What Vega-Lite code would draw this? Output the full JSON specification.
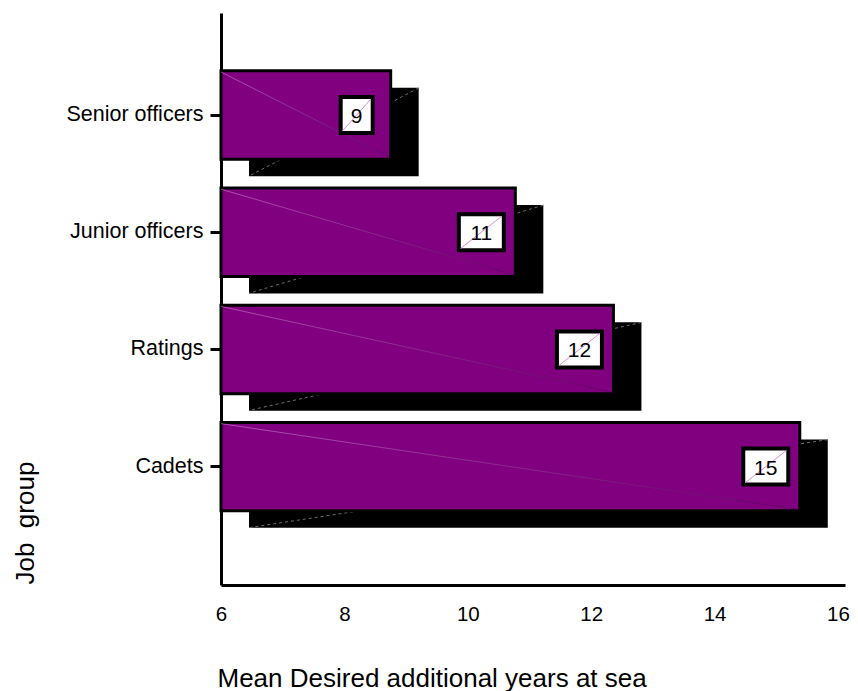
{
  "$schema": "https://vega.github.io/schema/vega-lite/v6.json",
  "width": 624,
  "height": 572,
  "autosize": {"type": "none"},
  "padding": {"left": 221, "top": 13, "right": 13, "bottom": 106},
  "background": "white",
  "config": {
    "view": {"stroke": null},
    "font": "Liberation Sans"
  },
  "data": {
    "values": [
      {"group": "Senior officers", "years": 8.75},
      {"group": "Junior officers", "years": 10.77},
      {"group": "Ratings", "years": 12.36},
      {"group": "Cadets", "years": 15.38}
    ]
  },
  "encoding": {
    "y": {
      "field": "group",
      "type": "nominal",
      "sort": ["Senior officers", "Junior officers", "Ratings", "Cadets"],
      "scale": {"paddingInner": 0.245, "paddingOuter": 0.5628, "align": 0.438},
      "axis": {
        "title": "Job\u00a0 group",
        "grid": false,
        "domainColor": "black",
        "domainWidth": 3,
        "tickColor": "black",
        "tickWidth": 3,
        "tickSize": 11,
        "labelPadding": 7,
        "labelFont": "Liberation Sans",
        "labelFontSize": 21.5,
        "labelColor": "black",
        "labelLimit": 0,
        "titleFont": "Liberation Sans",
        "titleFontSize": 26,
        "titleFontWeight": "normal",
        "titleColor": "black",
        "titleAngle": -90,
        "titleAlign": "left",
        "titleBaseline": "alphabetic",
        "titleX": -188,
        "titleY": 571
      }
    },
    "x": {
      "field": "years",
      "type": "quantitative",
      "scale": {"domain": [6, 16.113], "nice": false, "zero": false},
      "axis": {
        "title": "Mean Desired additional years at sea",
        "values": [6, 8, 10, 12, 14, 16],
        "format": "d",
        "grid": false,
        "ticks": false,
        "tickSize": 0,
        "domainColor": "black",
        "domainWidth": 3,
        "labelFont": "Liberation Sans",
        "labelFontSize": 20.5,
        "labelColor": "black",
        "labelBaseline": "alphabetic",
        "labelPadding": 35,
        "labelFlush": false,
        "labelOverlap": false,
        "titleFont": "Liberation Sans",
        "titleFontSize": 26,
        "titleFontWeight": "normal",
        "titleColor": "black",
        "titleAnchor": "start",
        "titleAlign": "left",
        "titleBaseline": "alphabetic",
        "titleX": -4,
        "titleY": 101
      }
    }
  },
  "layer": [
    {
      "description": "drop shadow behind each bar",
      "mark": {
        "type": "bar",
        "fill": "black",
        "strokeWidth": 0,
        "xOffset": 28,
        "x2Offset": 28,
        "yOffset": 17,
        "y2Offset": 17
      },
      "encoding": {"x2": {"datum": 6}}
    },
    {
      "description": "seam line across the shadow",
      "mark": {
        "type": "rule",
        "stroke": "#6e6e6e",
        "strokeWidth": 1,
        "strokeDash": [3, 3],
        "xOffset": 28,
        "x2Offset": 28,
        "yOffset": -27,
        "y2Offset": 61
      },
      "encoding": {"x2": {"datum": 6}, "y2": {"field": "group"}}
    },
    {
      "description": "main bars",
      "mark": {
        "type": "bar",
        "fill": "#800080",
        "stroke": "black",
        "strokeWidth": 3
      },
      "encoding": {"x2": {"datum": 6}}
    },
    {
      "description": "seam line across the bar face",
      "mark": {
        "type": "rule",
        "strokeWidth": 1,
        "opacity": 0.5,
        "stroke": {
          "gradient": "linear",
          "x1": 0, "y1": 0, "x2": 1, "y2": 0,
          "stops": [
            {"offset": 0, "color": "#e0a0e0"},
            {"offset": 1, "color": "#4a004a"}
          ]
        },
        "yOffset": 43,
        "y2Offset": -43
      },
      "encoding": {"x2": {"datum": 6}, "y2": {"field": "group"}}
    },
    {
      "description": "white value boxes",
      "mark": {
        "type": "point",
        "filled": true,
        "fill": "white",
        "stroke": "black",
        "strokeWidth": 4,
        "opacity": 1,
        "size": 1296,
        "xOffset": -34
      },
      "encoding": {
        "shape": {
          "condition": {"test": "datum.years < 9.5", "value": "M-0.889,-1H0.889V1H-0.889Z"},
          "value": "M-1.25,-1H1.25V1H-1.25Z"
        }
      }
    },
    {
      "description": "seam line inside value boxes",
      "mark": {
        "type": "point",
        "filled": false,
        "stroke": "#d890d8",
        "strokeWidth": 1,
        "opacity": 1,
        "size": 1296,
        "xOffset": -34
      },
      "encoding": {
        "shape": {
          "condition": {"test": "datum.years < 9.5", "value": "M-0.8,0.9L0.8,-0.9"},
          "value": "M-1.15,0.9L1.15,-0.9"
        }
      }
    },
    {
      "description": "value labels",
      "mark": {
        "type": "text",
        "font": "Liberation Sans",
        "fontSize": 21,
        "color": "black",
        "align": "center",
        "baseline": "alphabetic",
        "dy": 8,
        "xOffset": -34
      },
      "encoding": {"text": {"field": "years", "format": ".0f"}}
    }
  ]
}
